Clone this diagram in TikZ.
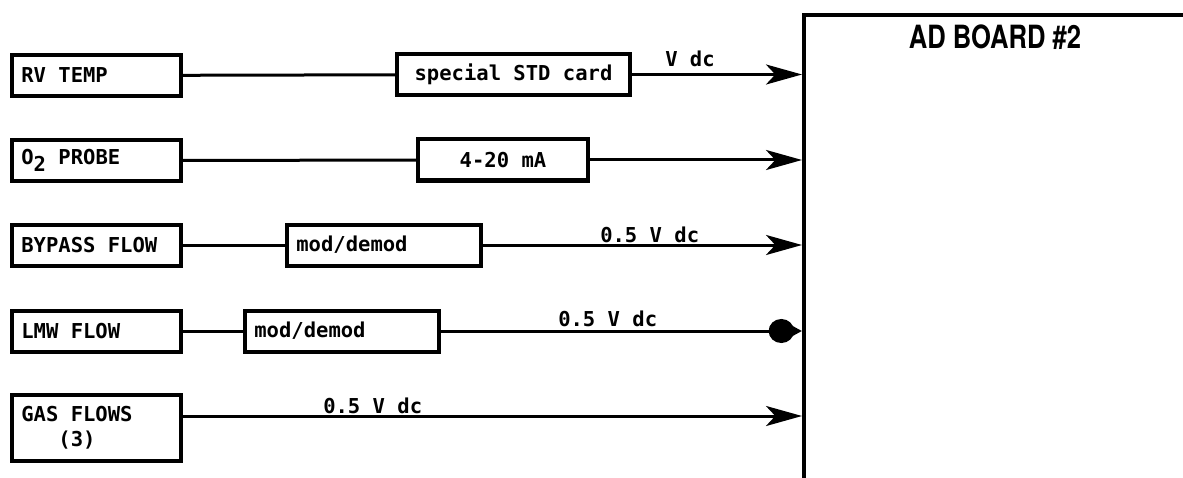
\documentclass[tikz,border=0pt]{standalone}
\usepackage{fontspec}
\usepackage{graphicx}
\setmonofont{DejaVu Sans Mono}
\newfontfamily\headfam{TeX Gyre Heros}
\usepackage{tikz}
\usetikzlibrary{positioning,arrows.meta}

\newcommand{\sigfont}{\fontsize{15.4}{18.75}\selectfont\ttfamily\bfseries}
\newcommand{\headfont}{\fontsize{24}{26}\selectfont\headfam\bfseries}
\newcommand{\srctext}[2][112.75pt]{\makebox[#1][l]{#2}}

\tikzset{
  srcbox/.style={draw, line width=3pt, anchor=west, align=left,
    inner xsep=7pt, minimum height=30.75pt, font=\sigfont},
  cardbox/.style={draw, line width=3pt, minimum height=30.75pt, font=\sigfont},
  sig/.style={line width=2.25pt},
  feed/.style={sig, -{Stealth[length=27pt,width=15pt,inset=7pt]}},
  blobfeed/.style={sig, -{Circle[length=19pt,width=18pt,sep=-2pt]Triangle[length=8pt,width=8pt,sep=0pt]}},
  siglabel/.style={anchor=base west, inner sep=0pt, font=\sigfont}
}

\begin{document}
\begin{tikzpicture}[x=0.75pt, y=-0.75pt]
\useasboundingbox (0,0) rectangle (1183,478);
\clip (0,0) rectangle (1183,478);

% the board on the right
\node (board) [draw, line width=3pt, anchor=north west, minimum width=286.5pt, minimum height=420pt] at (802,13) {};
\node (title) [below=9pt of board.north, inner sep=0pt, font=\headfont] {\scalebox{0.8}[1]{AD BOARD \#2}};

% sources
\node (rv) [srcbox] at (10,75.5) {\srctext{RV TEMP}};
\node (otwo) [srcbox] at (10,160.5) {\srctext{O{\raisebox{-5pt}{2}} PROBE}};
\node (bypass) [srcbox] at (10,245) {\srctext{BYPASS FLOW}};
\node (lmw) [srcbox] at (10,331) {\srctext{LMW FLOW}};
\node (gas) [srcbox, minimum height=49.5pt] at (10,428) {\srctext{GAS FLOWS}\\\phantom{000}(3)};

% conditioning
\node (std) [cardbox, minimum width=174.75pt] at (513.5,74.5) {special STD card};
\node (ma) [cardbox, minimum width=127.5pt] at (503,160) {4-20 mA};
\node (modA) [srcbox] at (285,245) {\srctext[131.5pt]{mod/demod}};
\node (modB) [srcbox] at (243,331) {\srctext[131.5pt]{mod/demod}};

% signal lines
\draw[sig] (rv) -- (std);
\draw[feed] (std.east) -- (std.east -| board.west);
\draw[sig] (otwo) -- (ma);
\draw[feed] (ma.east) -- (ma.east -| board.west);
\draw[sig] (bypass) -- (modA);
\draw[feed] (modA.east) -- (modA.east -| board.west);
\draw[sig] (lmw) -- (modB);
\draw[blobfeed] (modB.east) -- (modB.east -| board.west);
\draw[feed] ([yshift=9pt]gas.east) -- ([yshift=9pt]gas.east -| board.west);

% line labels
\node (vdc) [siglabel] at (665,67) {V dc};
\node (vbypass) [siglabel] at (600,243) {0.5 V dc};
\node (vlmw) [siglabel] at (558,326) {0.5 V dc};
\node (vgas) [siglabel] at (323,413) {0.5 V dc};
\end{tikzpicture}
\end{document}
